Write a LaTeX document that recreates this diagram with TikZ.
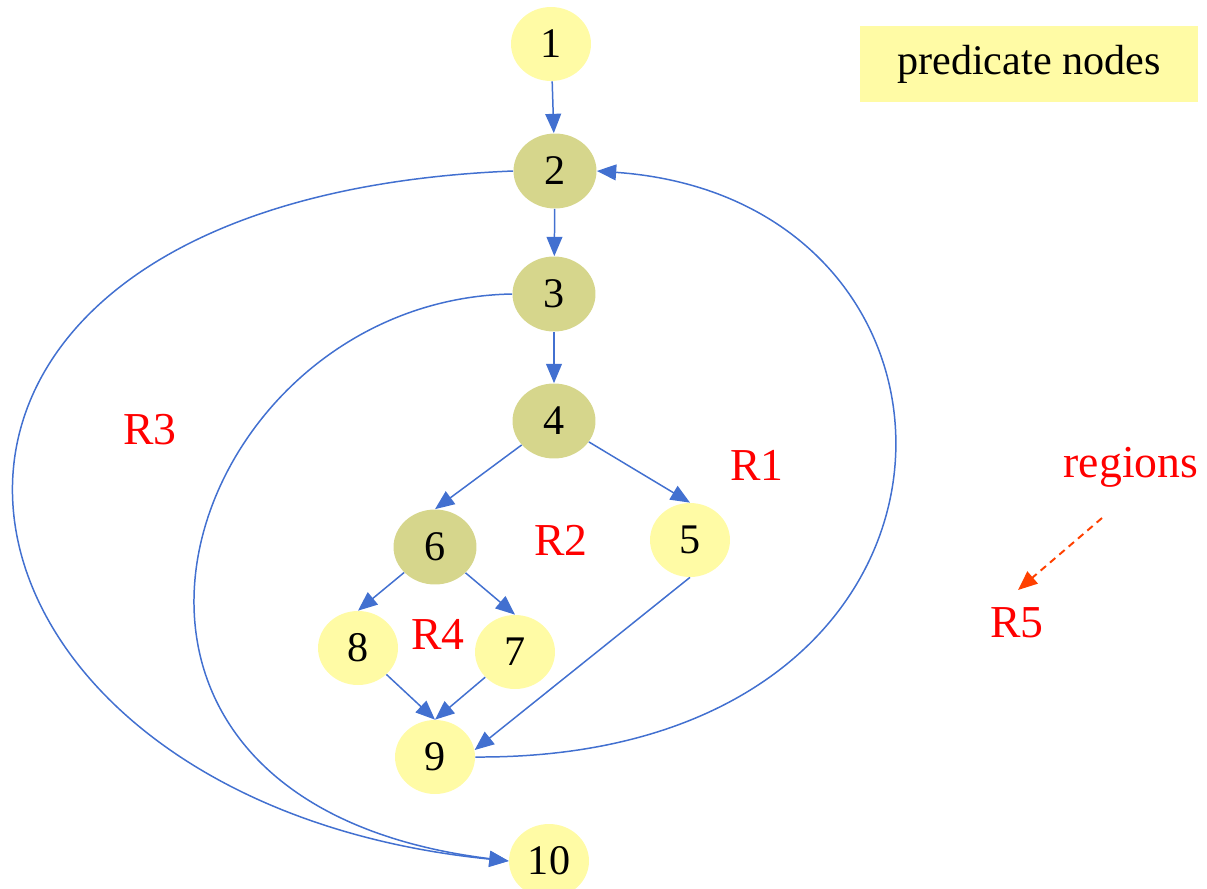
\documentclass[tikz,border=0pt]{standalone}
\usepackage{fontspec}
\setmainfont{Liberation Serif}
\usetikzlibrary{shapes.geometric,arrows.meta}
\definecolor{edgeblue}{RGB}{66,112,208}
\definecolor{nodeyellow}{RGB}{255,251,165}
\definecolor{predolive}{RGB}{214,214,140}
\definecolor{hintorange}{RGB}{255,64,0}

\begin{document}
\begin{tikzpicture}[x=0.02cm,y=-0.02cm,
  vert/.style={ellipse,fill=nodeyellow,minimum width=1.6cm,minimum height=1.48cm,inner sep=0pt,font=\fontsize{24}{28}\selectfont},
  pred/.style={vert,fill=predolive,minimum width=1.66cm,minimum height=1.5cm},
  flow/.style={edgeblue,line width=0.85pt,-{Triangle[length=11pt,width=9pt]}},
  region/.style={red,font=\fontsize{26}{30}\selectfont}]
\useasboundingbox (0,0) rectangle (1207,889);
\node[vert] (n1) at (551,44) {1};
\node[pred] (n2) at (555,171) {2};
\node[pred] (n3) at (554,294) {3};
\node[pred] (n4) at (554,421) {4};
\node[vert] (n5) at (690,540) {5};
\node[pred] (n6) at (435,547) {6};
\node[vert] (n7) at (515,652) {7};
\node[vert] (n8) at (358,648) {8};
\node[vert] (n9) at (435,757) {9};
\node[vert] (n10) at (549,861) {10};
\node[fill=nodeyellow,minimum width=6.78cm,minimum height=1.52cm,font=\fontsize{24}{28}\selectfont] (legend) at (1029,64) {predicate nodes};
\draw[flow] (n1) -- (n2);
\draw[flow] (n2) -- (n3);
\draw[flow] (n3) -- (n4);
\draw[flow] (n4) -- (n6.north);
\draw[flow] (n4) -- (n5.north);
\draw[flow] (n6) -- (n8.north);
\draw[flow] (n6) -- (n7.north);
\draw[flow] (n8) -- (n9.north);
\draw[flow] (n7) -- (n9.north);
\draw[flow] (n5.south) -- (n9.10);
\draw[flow] (n2.west) .. controls (-200,200) and (-100,800) .. (n10.west);
\draw[flow] (n3.west) .. controls (180,300) and (14,800) .. (n10.west);
\draw[flow] (n9.east) .. controls (1010,760) and (1010,200) .. (n2.east);
\node[region] (r1) at (757,465) {R1};
\node[region] (r2) at (561,540) {R2};
\node[region] (r3) at (150,430) {R3};
\node[region] (r4) at (438,634) {R4};
\node[region] (r5) at (1017,623) {R5};
\node[region] (reg) at (1131,467) {regions};
\coordinate (tail) at (1102,518);
\coordinate (head) at (1018,590);
\draw[hintorange,line width=1.1pt,dash pattern=on 4pt off 3pt,-{Triangle[length=11pt,width=9pt]}] (tail) -- (head);
\end{tikzpicture}
\end{document}
